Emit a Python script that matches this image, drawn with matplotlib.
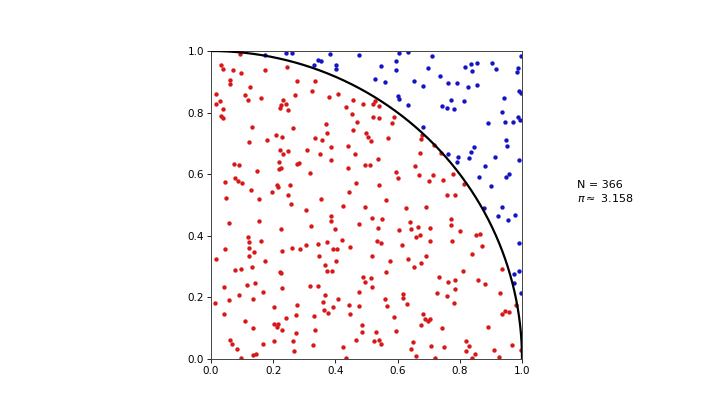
import numpy as np
import matplotlib
matplotlib.use("Agg")
import matplotlib.pyplot as plt

# Points inside the quarter circle (red)
inside_x = [0.092,0.033,0.038,0.071,0.096,0.174,0.244,0.060,0.061,0.125,0.016,0.108,0.119,0.162,0.029,0.017,0.231,0.226,0.222,0.240,
            0.039,0.246,0.033,0.040,0.132,0.209,0.227,0.179,0.121,0.222,0.246,0.232,0.074,0.091,0.219,0.224,0.218,0.149,0.076,0.086,
            0.099,0.046,0.212,0.214,0.128,0.196,0.249,0.047,0.155,0.058,0.155,0.226,0.119,0.121,0.161,0.044,0.121,0.138,0.228,0.017,
            0.121,0.173,0.078,0.097,0.132,0.222,0.226,0.042,0.117,0.141,0.229,0.089,0.168,0.057,0.135,0.014,0.202,0.042,0.240,0.108,
            0.202,0.215,0.213,0.134,0.229,0.062,0.067,0.166,0.202,0.083,0.134,0.146,0.096,0.277,0.335,0.325,0.270,0.409,0.379,0.458,
            0.489,0.434,0.454,0.470,0.371,0.265,0.456,0.497,0.372,0.335,0.356,0.385,0.440,0.308,0.350,0.463,0.386,0.276,0.284,0.494,
            0.440,0.318,0.253,0.467,0.444,0.353,0.258,0.423,0.494,0.305,0.386,0.387,0.476,0.323,0.399,0.420,0.372,0.345,0.305,0.448,
            0.261,0.285,0.391,0.404,0.346,0.403,0.368,0.374,0.390,0.490,0.494,0.318,0.343,0.368,0.407,0.477,0.359,0.277,0.443,0.475,
            0.393,0.362,0.377,0.446,0.274,0.331,0.485,0.335,0.486,0.272,0.465,0.265,0.329,0.423,0.268,0.434,0.526,0.522,0.539,0.522,
            0.539,0.589,0.581,0.506,0.514,0.568,0.680,0.675,0.716,0.740,0.671,0.536,0.511,0.655,0.596,0.602,0.669,0.713,0.701,0.745,
            0.539,0.563,0.626,0.691,0.517,0.551,0.641,0.666,0.538,0.605,0.642,0.704,0.672,0.660,0.535,0.547,0.704,0.614,0.519,0.691,
            0.577,0.633,0.675,0.653,0.562,0.514,0.732,0.519,0.726,0.618,0.617,0.559,0.629,0.566,0.682,0.589,0.688,0.699,0.705,0.675,
            0.742,0.531,0.595,0.524,0.539,0.548,0.649,0.642,0.706,0.748,0.658,0.720,0.778,0.814,0.758,0.784,0.772,0.772,0.802,0.851,
            0.866,0.775,0.871,0.839,0.810,0.761,0.784,0.858,0.882,0.935,0.784,0.758,0.928,0.781,0.980,0.944,0.937,0.959,0.891,0.821,
            0.830,0.819,0.850,0.909,0.969,0.996,0.926,0.839]
inside_y = [0.990,0.956,0.943,0.938,0.929,0.938,0.948,0.905,0.892,0.883,0.860,0.857,0.842,0.846,0.837,0.829,0.841,0.824,0.816,0.829,
            0.811,0.809,0.789,0.782,0.753,0.727,0.720,0.712,0.704,0.680,0.675,0.666,0.633,0.629,0.640,0.621,0.616,0.610,0.589,0.578,
            0.571,0.574,0.564,0.559,0.549,0.542,0.533,0.522,0.520,0.443,0.447,0.423,0.397,0.380,0.384,0.358,0.360,0.347,0.350,0.326,
            0.333,0.319,0.290,0.291,0.298,0.282,0.278,0.235,0.241,0.248,0.231,0.209,0.218,0.192,0.196,0.182,0.168,0.145,0.132,0.123,
            0.115,0.114,0.104,0.101,0.095,0.062,0.049,0.049,0.058,0.031,0.013,0.017,0.003,0.904,0.903,0.871,0.856,0.860,0.850,0.841,
            0.827,0.818,0.795,0.769,0.763,0.750,0.744,0.735,0.735,0.718,0.712,0.689,0.692,0.680,0.666,0.666,0.645,0.632,0.635,0.629,
            0.621,0.605,0.566,0.570,0.543,0.520,0.504,0.498,0.494,0.484,0.465,0.448,0.438,0.432,0.421,0.387,0.379,0.373,0.369,0.365,
            0.360,0.356,0.358,0.358,0.335,0.317,0.305,0.285,0.286,0.267,0.251,0.237,0.236,0.209,0.196,0.217,0.185,0.175,0.174,0.171,
            0.170,0.159,0.149,0.147,0.142,0.140,0.110,0.094,0.087,0.083,0.061,0.057,0.045,0.040,0.027,0.002,0.837,0.827,0.820,0.785,
            0.782,0.786,0.767,0.720,0.709,0.718,0.728,0.713,0.694,0.668,0.670,0.649,0.630,0.628,0.606,0.589,0.598,0.596,0.578,0.582,
            0.565,0.515,0.490,0.494,0.459,0.455,0.445,0.430,0.424,0.419,0.422,0.424,0.404,0.397,0.383,0.376,0.384,0.370,0.335,0.334,
            0.319,0.326,0.311,0.298,0.281,0.263,0.267,0.234,0.213,0.212,0.199,0.196,0.179,0.171,0.146,0.137,0.130,0.123,0.130,0.109,
            0.101,0.087,0.091,0.057,0.061,0.048,0.056,0.033,0.041,0.039,0.011,0.003,0.601,0.569,0.533,0.532,0.454,0.434,0.417,0.403,
            0.407,0.384,0.367,0.342,0.285,0.251,0.256,0.257,0.244,0.291,0.227,0.206,0.215,0.183,0.175,0.156,0.147,0.153,0.104,0.058,
            0.041,0.027,0.016,0.029,0.045,0.030,0.006,0.003]

# Points outside the quarter circle (blue)
outside_x = [0.175,0.241,0.260,0.382,0.477,0.343,0.355,0.330,0.402,0.403,0.605,0.633,0.712,0.595,0.546,0.699,0.596,0.735,0.528,0.559,
             0.654,0.683,0.600,0.605,0.632,0.742,0.681,0.998,0.904,0.855,0.835,0.817,0.915,0.988,0.984,0.839,0.762,0.790,0.855,0.825,
             0.991,0.997,0.941,0.772,0.814,0.760,0.780,0.937,0.986,0.995,0.891,0.945,0.970,0.949,0.953,0.846,0.837,0.763,0.795,0.831,
             0.790,0.912,0.991,0.880,0.958,0.949,0.861,0.901,0.878,0.937,0.924,0.977,0.955,0.991,0.974,0.990,0.973,0.998]
outside_y = [0.988,0.992,0.994,0.991,0.987,0.970,0.967,0.955,0.954,0.943,0.994,0.997,0.985,0.968,0.952,0.945,0.938,0.918,0.910,0.899,
             0.904,0.887,0.853,0.844,0.825,0.823,0.754,0.984,0.961,0.961,0.958,0.948,0.941,0.944,0.931,0.934,0.896,0.897,0.890,0.883,
             0.869,0.865,0.846,0.840,0.837,0.816,0.812,0.801,0.785,0.775,0.766,0.769,0.769,0.712,0.692,0.689,0.672,0.666,0.657,0.654,
             0.639,0.655,0.647,0.627,0.602,0.592,0.592,0.561,0.491,0.493,0.464,0.467,0.451,0.378,0.276,0.285,0.248,0.215]

n_total = 366
pi_estimate = "3.158"
tick_values = [0.0, 0.2, 0.4, 0.6, 0.8, 1.0]

fig = plt.figure(figsize=(7.2, 4.04), dpi=100)
ax = fig.add_axes([211/720, 45/404, 311/720, 308/404])

ax.scatter(inside_x, inside_y, s=10, color='#d81818', linewidths=0, zorder=2)
ax.scatter(outside_x, outside_y, s=10, color='#1414c4', linewidths=0, zorder=2)

theta = np.linspace(0, np.pi / 2, 400)
ax.plot(np.cos(theta), np.sin(theta), color='black', lw=1.6, zorder=3)

ax.set_xlim(0, 1)
ax.set_ylim(0, 1)
ax.set_xticks(tick_values)
ax.set_yticks(tick_values)
ax.set_xticklabels([f"{v:.1f}" for v in tick_values])
ax.set_yticklabels([f"{v:.1f}" for v in tick_values])
ax.tick_params(labelsize=7.5, length=3, width=0.6, pad=2)
for sp in ax.spines.values():
    sp.set_linewidth(0.7)
    sp.set_color('#444444')

fig.text(577/720, 1 - 192/404, f"N = {n_total}\n$\\pi\\approx$ {pi_estimate}",
         fontsize=8, va='center', ha='left', linespacing=1.1)

fig.savefig("out.png", dpi=100)
